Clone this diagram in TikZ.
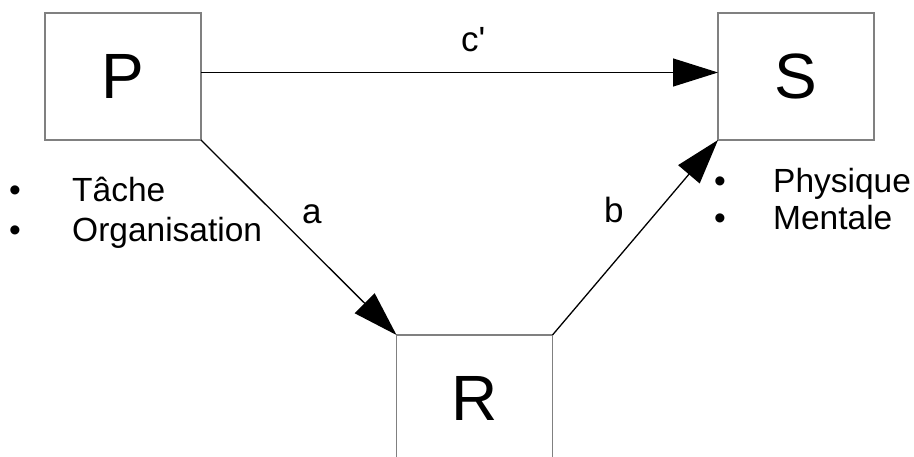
\documentclass[tikz,border=0pt]{standalone}
\usepackage{fontspec}
\newfontfamily\arialf{Liberation Sans}
\usetikzlibrary{arrows.meta}
\begin{document}
\begin{tikzpicture}[x=1pt,y=-1pt,
  box/.style={draw=black!50,line width=1.2pt,minimum width=156pt,minimum height=127pt,
    inner sep=0pt,outer sep=0pt,font=\arialf\fontsize{64}{76}\selectfont},
  conn/.style={line width=1.3pt,-{Triangle[length=45pt,width=28pt]}},
  lbl/.style={inner sep=0pt,anchor=base west,font=\arialf\fontsize{33.5}{40}\selectfont},
  elbl/.style={inner sep=0pt,anchor=base west,font=\arialf\fontsize{35}{42}\selectfont},
  bul/.style={inner sep=0pt,anchor=base,font=\arialf\fontsize{33.5}{40}\selectfont}]
\useasboundingbox (0,0) rectangle (914,457);
\begin{scope}
\clip (0,0) rectangle (914,457);
\node[box] (P) at (123,76.5) {P};
\node[box] (S) at (796,76.5) {S};
\node[box] (R) at (474.5,398.5) {R};
\draw[conn] ([yshift=4pt]P.east) -- ([yshift=4pt]S.west);
\draw[conn] (P.south east) -- (R.north west);
\draw[conn] (R.north east) -- (S.south west);
\end{scope}
\node[elbl] (c) at (461,52) {c'};
\node[elbl] (a) at (302,224) {a};
\node[elbl] (b) at (604,223) {b};
\node[bul] (b1) at (15,202) {•};
\node[bul] (b2) at (15,242) {•};
\node[lbl] (t1) at (72,202) {Tâche};
\node[lbl] (t2) at (72,242) {Organisation};
\node[bul] (b3) at (720,193) {•};
\node[bul] (b4) at (720,230) {•};
\node[lbl] (t3) at (773,193) {Physique};
\node[lbl] (t4) at (773,230) {Mentale};
\end{tikzpicture}
\end{document}
